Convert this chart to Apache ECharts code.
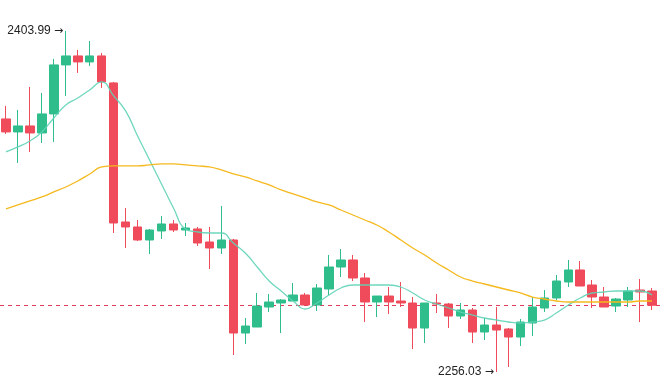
<!DOCTYPE html>
<html>
<head>
<meta charset="utf-8">
<script src="https://cdn.jsdelivr.net/npm/echarts@6/dist/echarts.min.js"></script>
<style>html,body{margin:0;padding:0;background:#fff;}#c{width:661px;height:391px;}</style>
</head>
<body>
<div id="c"></div>
<script>
// [open, close, low, high]
const candles = [
  [2365.81, 2360.17, 2359.30, 2371.45],
  [2360.17, 2362.77, 2346.72, 2369.71],
  [2362.77, 2359.73, 2351.49, 2379.69],
  [2359.73, 2367.98, 2355.39, 2377.09],
  [2367.98, 2389.24, 2355.83, 2391.84],
  [2389.24, 2393.14, 2375.79, 2403.99],
  [2393.14, 2390.54, 2385.77, 2395.75],
  [2390.54, 2393.14, 2388.80, 2399.65],
  [2393.14, 2381.86, 2379.26, 2394.44],
  [2381.43, 2320.68, 2316.34, 2381.86],
  [2321.11, 2318.95, 2309.83, 2327.19],
  [2318.95, 2313.30, 2312.87, 2321.98],
  [2313.30, 2317.64, 2307.23, 2318.08],
  [2317.21, 2320.25, 2313.74, 2323.72],
  [2320.25, 2317.64, 2316.78, 2321.98],
  [2317.64, 2318.51, 2315.04, 2320.68],
  [2318.08, 2312.00, 2310.70, 2318.95],
  [2312.43, 2309.83, 2300.72, 2318.95],
  [2309.83, 2313.30, 2307.23, 2328.06],
  [2313.30, 2272.95, 2263.39, 2313.74],
  [2272.95, 2275.99, 2268.17, 2279.46],
  [2275.55, 2284.66, 2275.55, 2290.30],
  [2284.23, 2286.40, 2282.06, 2289.87],
  [2285.97, 2287.27, 2272.95, 2287.70],
  [2286.83, 2289.44, 2286.83, 2294.64],
  [2289.44, 2285.10, 2285.10, 2290.30],
  [2285.10, 2292.47, 2282.50, 2294.21],
  [2292.04, 2301.59, 2289.44, 2306.80],
  [2301.59, 2304.63, 2297.25, 2309.40],
  [2304.63, 2296.82, 2295.51, 2306.80],
  [2296.82, 2286.40, 2277.72, 2298.99],
  [2286.40, 2289.00, 2279.89, 2289.00],
  [2289.00, 2286.40, 2281.19, 2292.91],
  [2286.83, 2285.97, 2284.23, 2295.08],
  [2285.97, 2275.12, 2266.00, 2288.57],
  [2275.12, 2285.97, 2268.61, 2285.97],
  [2285.97, 2285.53, 2281.63, 2289.87],
  [2285.53, 2280.33, 2275.12, 2285.97],
  [2280.33, 2282.93, 2279.03, 2285.97],
  [2282.93, 2273.38, 2268.61, 2283.80],
  [2273.38, 2276.42, 2269.91, 2279.46],
  [2276.42, 2274.25, 2256.03, 2284.23],
  [2274.69, 2271.21, 2258.19, 2275.12],
  [2271.21, 2277.72, 2267.30, 2279.03],
  [2277.29, 2284.23, 2271.65, 2288.57],
  [2283.80, 2288.14, 2282.06, 2291.61],
  [2288.14, 2295.51, 2287.27, 2298.12],
  [2295.08, 2300.29, 2292.91, 2304.63],
  [2300.29, 2293.34, 2293.34, 2304.19],
  [2293.78, 2288.57, 2283.80, 2295.95],
  [2288.57, 2284.23, 2284.23, 2292.91],
  [2284.66, 2287.70, 2282.06, 2288.14],
  [2287.27, 2291.17, 2284.23, 2292.91],
  [2291.61, 2290.74, 2277.72, 2296.38],
  [2291.17, 2285.00, 2282.93, 2292.47]
];

const maShort = [
  2351.49, 2353.66, 2356.26, 2360.17, 2366.24, 2371.88, 2374.92, 2378.39, 2381.86, 2375.79,
  2369.28, 2358.43, 2348.02, 2337.60, 2327.19, 2318.08, 2316.78, 2316.34, 2316.34, 2312.00,
  2307.66, 2301.59, 2295.51, 2291.18, 2286.84, 2283.37, 2285.97, 2289.44, 2292.48, 2293.78,
  2293.78, 2293.78, 2293.78, 2292.91, 2290.31, 2287.27, 2285.54, 2283.80, 2282.06, 2280.76,
  2279.46, 2278.59, 2277.73, 2277.29, 2277.73, 2278.59, 2281.63, 2285.10, 2288.14, 2290.31,
  2290.74, 2291.18, 2291.18, 2291.18, 2289.44
];

const maLong = [
  2326.76, 2328.49, 2330.23, 2331.96, 2334.13, 2336.30, 2338.90, 2341.94, 2344.98, 2345.41,
  2345.41, 2345.41, 2345.85, 2346.28, 2346.28, 2345.85, 2345.41, 2344.98, 2343.67, 2341.94,
  2340.64, 2338.90, 2337.17, 2335.00, 2333.26, 2331.53, 2329.79, 2328.49, 2326.32, 2324.15,
  2321.98, 2319.81, 2316.78, 2313.30, 2309.83, 2306.80, 2303.33, 2300.29, 2297.25, 2295.51,
  2294.21, 2292.91, 2291.61, 2290.31, 2288.57, 2287.70, 2286.84, 2286.40, 2286.40, 2286.40,
  2286.40, 2286.40, 2286.40, 2286.84, 2286.84
];

const categories = candles.map((_, i) => String(i + 1));

const upColor = '#2ebd8b';
const downColor = '#ef4b5a';
const lastLineColor = 'rgb(226,62,88)';

// extremes for the labels
let hiIdx = 0, loIdx = 0;
candles.forEach((c, i) => {
  if (c[3] > candles[hiIdx][3]) hiIdx = i;
  if (c[2] < candles[loIdx][2]) loIdx = i;
});
const lastClose = candles[candles.length - 1][1];

const chart = echarts.init(document.getElementById('c'), null, {renderer: 'canvas'});
chart.setOption({
  animation: false,
  backgroundColor: '#ffffff',
  grid: {left: -2, right: 3, top: 0, bottom: 0, containLabel: false},
  xAxis: {
    type: 'category', data: categories, boundaryGap: true,
    show: false
  },
  yAxis: {
    type: 'value', min: 2247.8, max: 2417.4, show: false, splitLine: {show: false}
  },
  series: [
    {
      type: 'candlestick',
      data: candles,
      barWidth: 9,
      z: 2,
      itemStyle: {
        color: upColor, color0: downColor,
        borderColor: upColor, borderColor0: downColor, borderWidth: 1
      },
      markPoint: {
        symbol: 'circle', symbolSize: 1,
        itemStyle: {color: 'rgba(0,0,0,0)'},
        label: {
          show: true, position: 'left', distance: 2,
          color: '#222', fontSize: 12, fontFamily: 'Liberation Sans',
          formatter: p => p.value + ' {a|→}',
          rich: {a: {fontFamily: 'DejaVu Sans', fontSize: 11, color: '#222'}}
        },
        data: [
          {coord: [hiIdx, candles[hiIdx][3]], value: candles[hiIdx][3].toFixed(2)},
          {coord: [loIdx, candles[loIdx][2]], value: candles[loIdx][2].toFixed(2)}
        ]
      }
    },
    {
      type: 'line', data: maShort, smooth: true, showSymbol: false, symbol: 'none', z: 3,
      lineStyle: {color: '#5fd3b6', width: 1.3, opacity: 0.9}
    },
    {
      type: 'line', data: maLong, smooth: true, showSymbol: false, symbol: 'none', z: 3,
      lineStyle: {color: '#f5b91e', width: 1.3}
    }
  ]
});

// last-price dashed line, positioned through the chart's own y scale
const yPix = Math.round(chart.convertToPixel({yAxisIndex: 0}, lastClose)) + 0.5;
chart.setOption({
  graphic: [{
    type: 'line', z: 1, silent: true,
    shape: {x1: 0, y1: yPix, x2: 661, y2: yPix},
    style: {stroke: lastLineColor, lineWidth: 1, lineDash: [4, 4]}
  }]
});
</script>
</body>
</html>
